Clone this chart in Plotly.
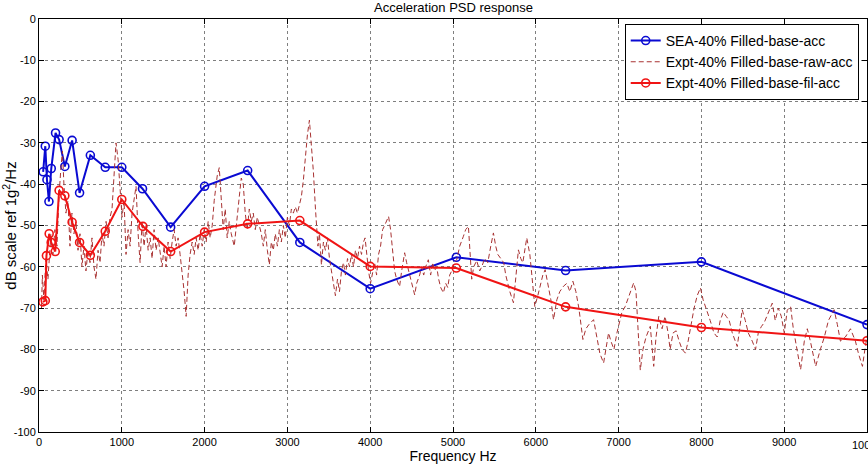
import plotly.graph_objects as go

# SEA prediction (1/3 octave band points)
sea_freq = [50, 76, 96, 120, 148, 200, 243, 312, 400, 490, 620, 800, 1000, 1250, 1590,
            2000, 2520, 3150, 4000, 5040, 6360, 8000, 10000]
sea_db = [-37.0, -30.8, -38.9, -44.2, -36.2, -27.6, -29.2, -35.7, -29.4, -42.1, -33.0, -35.9,
          -35.9, -41.1, -50.4, -40.5, -36.7, -54.1, -65.3, -57.7, -60.9, -58.8, -74.0]

# Experimental filtered
fil_freq = [47, 76, 90, 123, 147, 196, 243, 312, 400, 490, 620, 800, 1000, 1255, 1590,
            2000, 2520, 3150, 4000, 5040, 6360, 8000, 10000]
fil_db = [-68.5, -68.2, -57.3, -52.0, -54.1, -56.3, -41.5, -42.8, -49.2, -54.1, -57.2, -51.4,
          -43.7, -50.2, -56.3, -51.6, -49.6, -48.8, -59.9, -60.3, -69.7, -74.7, -77.9]

raw_points = [
    (30, -70), (41, -62), (59, -68), (83, -58), (108, -63), (144, -52), (168, -57), (192, -51),
    (217, -55), (241, -43), (265, -36), (283, -32), (301, -40), (325, -47), (350, -44), (374, -55),
    (398, -47), (422, -52), (446, -49), (471, -56), (495, -52), (519, -60), (543, -55), (567, -61),
    (592, -56), (616, -59), (640, -53), (664, -60), (688, -63), (713, -56), (737, -59), (761, -52),
    (785, -55), (810, -49), (834, -53), (858, -48), (882, -46), (906, -38), (930, -30), (955, -34),
    (979, -42), (1003, -48), (1027, -44), (1051, -57), (1076, -51), (1100, -55), (1124, -47),
    (1148, -44), (1172, -40.5), (1197, -52), (1221, -59), (1245, -49), (1269, -55), (1293, -50),
    (1318, -56), (1342, -53), (1366, -58), (1390, -51), (1414, -56), (1439, -53), (1463, -57),
    (1487, -60), (1511, -55), (1535, -60), (1559, -54), (1584, -58), (1608, -54), (1632, -51),
    (1656, -55), (1680, -53), (1704, -57), (1729, -61), (1753, -66), (1777, -72), (1801, -62),
    (1825, -57), (1850, -54), (1874, -57), (1898, -53), (1922, -56), (1946, -52), (1971, -55),
    (1995, -51), (2019, -54), (2043, -49), (2067, -53), (2092, -50), (2116, -44), (2152, -38),
    (2177, -36), (2201, -44), (2225, -51), (2249, -46), (2273, -53), (2298, -49), (2322, -52),
    (2358, -55), (2394, -47), (2419, -43), (2443, -38.5), (2467, -40), (2491, -47), (2515, -51),
    (2540, -46), (2564, -49), (2588, -47), (2612, -51), (2637, -48), (2661, -50), (2685, -52),
    (2709, -55), (2733, -51), (2758, -56), (2782, -59.5), (2806, -54), (2830, -56), (2854, -52),
    (2879, -55), (2903, -51), (2927, -54), (2951, -50), (2975, -53), (3000, -48), (3024, -50),
    (3048, -46), (3072, -47), (3096, -45.5), (3121, -47), (3145, -45), (3169, -43), (3193, -39),
    (3217, -33), (3242, -28), (3266, -24.5), (3290, -30), (3314, -37), (3339, -46), (3369, -55),
    (3387, -52), (3411, -59.5), (3435, -54), (3459, -56), (3484, -53), (3508, -58), (3532, -61),
    (3556, -64), (3580, -67), (3605, -63), (3629, -66), (3653, -61), (3677, -59), (3701, -62),
    (3726, -58), (3750, -60), (3774, -57), (3798, -60), (3822, -56), (3847, -58), (3871, -55),
    (3895, -57), (3919, -54), (3938, -53), (3956, -57), (3980, -61), (4004, -64), (4029, -61),
    (4053, -59), (4077, -62), (4101, -57), (4125, -55), (4150, -51), (4174, -50), (4198, -49),
    (4222, -47.8), (4246, -51), (4271, -57), (4295, -61), (4319, -63), (4355, -64.8), (4380, -61),
    (4416, -56.6), (4440, -59), (4464, -61), (4488, -63), (4513, -65), (4537, -66.8), (4561, -64),
    (4597, -62), (4621, -60), (4646, -62), (4670, -60), (4702, -58.3), (4730, -62), (4755, -59),
    (4779, -61), (4803, -60), (4827, -63), (4851, -65), (4884, -66.3), (4912, -64), (4936, -65),
    (4960, -62), (4984, -61), (5009, -59), (5045, -58.3), (5081, -55), (5126, -52.6), (5153, -51),
    (5186, -50.2), (5202, -56), (5226, -63), (5250, -60), (5286, -58.5), (5323, -61), (5347, -60),
    (5383, -58), (5420, -59), (5456, -55), (5488, -51.8), (5516, -55), (5541, -57), (5577, -58),
    (5613, -59), (5637, -62), (5662, -64), (5686, -66), (5730, -68.7), (5758, -62), (5790, -55.9),
    (5819, -58), (5843, -59), (5891, -53), (5928, -57), (5952, -62), (5988, -69.6), (6024, -67),
    (6049, -65), (6085, -62), (6113, -60.7), (6145, -64), (6182, -68), (6214, -72.8), (6254, -68),
    (6290, -66), (6335, -64.7), (6375, -64), (6411, -66), (6448, -63.5), (6484, -66), (6520, -70),
    (6569, -77.6), (6605, -75), (6641, -74), (6698, -72.8), (6738, -77), (6774, -81), (6819, -83.3),
    (6847, -80), (6879, -76), (6907, -78), (6944, -80), (6980, -76), (7016, -73), (7040, -71),
    (7080, -69.6), (7125, -67), (7182, -63.9), (7210, -66), (7234, -76), (7262, -85), (7294, -80),
    (7331, -77), (7383, -74.4), (7424, -84.1), (7452, -77), (7485, -72), (7525, -75), (7561, -72),
    (7598, -76), (7622, -80), (7658, -76), (7695, -75.5), (7731, -78), (7767, -80), (7807, -80.9),
    (7840, -78), (7876, -74), (7912, -70), (7949, -67), (7988, -65.1), (8021, -68), (8058, -70),
    (8106, -73), (8151, -76), (8191, -77), (8227, -73), (8264, -71), (8300, -72), (8336, -73),
    (8373, -76), (8433, -79.3), (8469, -74), (8493, -70.4), (8530, -73), (8566, -76), (8614, -78),
    (8654, -80), (8687, -76), (8723, -74.5), (8759, -73.5), (8808, -71), (8856, -68.8), (8892, -73),
    (8929, -70), (8965, -72), (9001, -76), (9037, -70.5), (9077, -69.6), (9110, -75), (9158, -80),
    (9198, -84.9), (9243, -78), (9279, -75), (9316, -78), (9380, -84.1), (9437, -80), (9485, -77),
    (9534, -73), (9603, -70.4), (9642, -74), (9679, -78), (9739, -77), (9800, -75), (9860, -78),
    (9897, -81), (9945, -84.1), (9982, -79), (10033, -73.6),
]
raw_freq = [p[0] for p in raw_points]
raw_db = [p[1] for p in raw_points]

x_ticks = list(range(0, 10001, 1000))
y_ticks = list(range(-100, 1, 10))

FONT = "Liberation Sans, Arial, Helvetica, sans-serif"
BLUE = "#0a0ad2"
RED = "#f01414"
RAW = "#a83232"

fig = go.Figure()
fig.add_trace(go.Scatter(
    x=sea_freq, y=sea_db, mode="lines+markers", name="SEA-40% Filled-base-acc",
    line=dict(color=BLUE, width=2),
    marker=dict(symbol="circle-open", size=8, color=BLUE, line=dict(width=1.6, color=BLUE)),
))
fig.add_trace(go.Scatter(
    x=raw_freq, y=raw_db, mode="lines", name="Expt-40% Filled-base-raw-acc",
    line=dict(color=RAW, width=1, dash="5px,3px"),
))
fig.add_trace(go.Scatter(
    x=fil_freq, y=fil_db, mode="lines+markers", name="Expt-40% Filled-base-fil-acc",
    line=dict(color=RED, width=2),
    marker=dict(symbol="circle-open", size=8, color=RED, line=dict(width=1.6, color=RED)),
))

axis_common = dict(
    showline=True, linecolor="black", linewidth=1, mirror="ticks",
    ticks="inside", ticklen=5, tickcolor="black",
    showgrid=True, gridcolor="rgba(0,0,0,0.5)", griddash="dot", gridwidth=1,
    zeroline=False, tickfont=dict(family=FONT, size=11, color="black"),
)

# last x tick label (10000) is drawn as an annotation so it can run off the right edge
x_main_ticks = x_ticks[:-1]
fig.update_xaxes(range=[0, 10000], tickvals=x_ticks,
                 ticktext=[str(v) for v in x_main_ticks] + [""],
                 title=dict(text="Frequency Hz", font=dict(family=FONT, size=14, color="black"),
                            standoff=1),
                 **axis_common)
fig.update_yaxes(range=[-100, 0], tickvals=y_ticks, ticktext=[str(v) for v in y_ticks],
                 title=dict(text="dB scale ref 1g<sup>2</sup>/Hz",
                            font=dict(family=FONT, size=15, color="black"), standoff=3),
                 **axis_common)

fig.update_layout(
    width=868, height=464,
    margin=dict(l=38, r=0, t=19, b=32),
    paper_bgcolor="white", plot_bgcolor="white",
    font=dict(family=FONT, color="black"),
    showlegend=True,
    legend=dict(x=0.990, y=0.988, xanchor="right", yanchor="top",
                bgcolor="white", bordercolor="black", borderwidth=1,
                font=dict(family=FONT, size=14, color="black"),
                tracegroupgap=0, itemwidth=30),
    annotations=[
        dict(text="Acceleration PSD response", xref="paper", yref="paper",
             x=0.5, y=1.028, xanchor="center", yanchor="middle", showarrow=False,
             font=dict(family=FONT, size=13, color="black")),
        dict(text=str(x_ticks[-1]), xref="x", yref="paper", x=x_ticks[-1], y=-0.012,
             xanchor="center", yanchor="top", showarrow=False,
             font=dict(family=FONT, size=11, color="black")),
    ],
)

fig.write_html("out.html")
